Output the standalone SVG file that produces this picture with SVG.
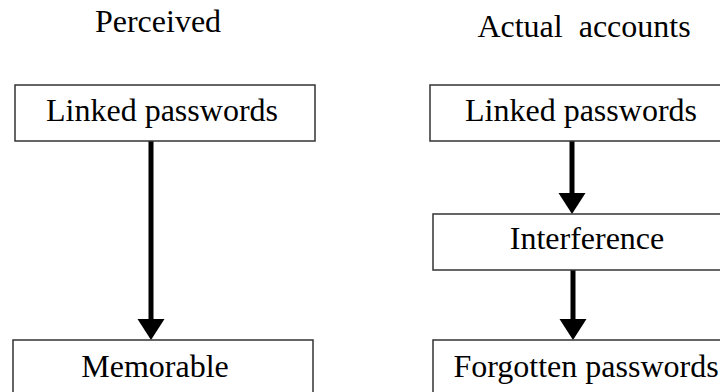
<svg xmlns="http://www.w3.org/2000/svg" width="720" height="392" viewBox="0 0 720 392">
  <style>
    .box { fill: #ffffff; stroke: #333333; stroke-width: 1.5; }
    .lbl { font-family: "Liberation Serif", "Times New Roman", serif; font-size: 32px; fill: #000000; text-anchor: middle; }
    .conn { stroke: #000000; stroke-width: 5; fill: none; }
  </style>
  <defs>
    <marker id="head" markerUnits="userSpaceOnUse" viewBox="0 -14 22 28" refX="0" refY="0" markerWidth="22" markerHeight="28" orient="auto">
      <path d="M0,-13.5 L21,0 L0,13.5 Z" fill="#000000"/>
    </marker>
  </defs>
  <rect width="720" height="392" fill="#ffffff"/>
  <g id="titles">
    <text class="lbl" x="158" y="32">Perceived</text>
    <text class="lbl" x="584" y="37" xml:space="preserve">Actual  accounts</text>
  </g>
  <g id="connectors">
    <line class="conn" x1="151" y1="141" x2="151" y2="319" marker-end="url(#head)"/>
    <line class="conn" x1="572" y1="141" x2="572" y2="193" marker-end="url(#head)"/>
    <line class="conn" x1="573" y1="270" x2="573" y2="319" marker-end="url(#head)"/>
  </g>
  <g id="node-left-linked">
    <rect class="box" x="15" y="85" width="300" height="56"/>
    <text class="lbl" x="162" y="121">Linked passwords</text>
  </g>
  <g id="node-memorable">
    <rect class="box" x="13" y="340" width="300" height="60"/>
    <text class="lbl" x="155" y="377">Memorable</text>
  </g>
  <g id="node-right-linked">
    <rect class="box" x="430" y="85" width="300" height="56"/>
    <text class="lbl" x="581" y="121">Linked passwords</text>
  </g>
  <g id="node-interference">
    <rect class="box" x="433" y="214" width="300" height="56"/>
    <text class="lbl" x="587" y="249">Interference</text>
  </g>
  <g id="node-forgotten">
    <rect class="box" x="433" y="340" width="300" height="60"/>
    <text class="lbl" x="586" y="377">Forgotten passwords</text>
  </g>
</svg>
